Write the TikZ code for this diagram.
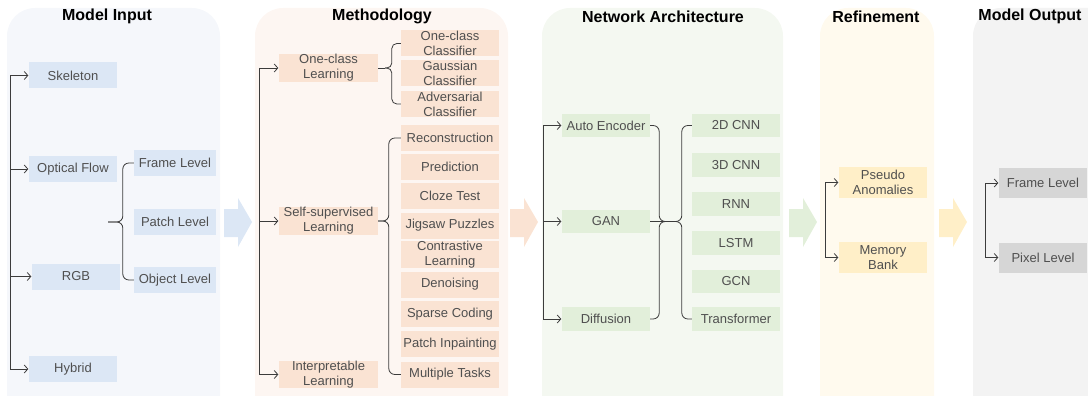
\documentclass[tikz,border=0pt]{standalone}
\usepackage{fontspec}
\setmainfont{Liberation Sans}
\usetikzlibrary{arrows.meta,positioning,calc}

\definecolor{inbg}{HTML}{F5F7FB}
\definecolor{incol}{HTML}{DCE7F5}
\definecolor{mebg}{HTML}{FDF6F2}
\definecolor{mecol}{HTML}{FAE3D3}
\definecolor{nabg}{HTML}{F4F8F1}
\definecolor{nacol}{HTML}{E2EFDA}
\definecolor{rebg}{HTML}{FFFAEE}
\definecolor{recol}{HTML}{FFEFC8}
\definecolor{mobg}{HTML}{F3F3F3}
\definecolor{mocol}{HTML}{D6D6D6}
\definecolor{linecol}{HTML}{3C3C3C}
\definecolor{boxtext}{HTML}{4F4F4F}

\tikzset{
    panel/.style={rounded corners=28pt},
    titulo/.style={font=\fontsize{16}{18}\selectfont\bfseries,text=black},
    caja/.style={minimum width=88pt,minimum height=26pt,inner sep=0pt,align=center,
        text=boxtext,font=\fontsize{13}{15}\selectfont},
    inbox/.style={caja,fill=incol},
    mebox/.style={caja,fill=mecol,minimum width=98pt},
    nabox/.style={caja,fill=nacol,minimum height=23.5pt},
    rebox/.style={caja,fill=recol,minimum height=31pt},
    mobox/.style={caja,fill=mocol,minimum height=30pt},
    linea/.style={draw=linecol,line width=0.8pt},
    flecha/.style={linea,-{Straight Barb[length=3.5pt,width=8pt]},shorten >=0.5pt},
    llave/.style={linea,rounded corners=6pt},
}
\newcommand{\bigarrow}[2]{\fill[#2] (#1,209) -- ++(14,0) -- ++(0,-11) -- ++(14,24)
    -- ++(-14,25) -- ++(0,-10) -- ++(-14,0) -- cycle;}

\begin{document}
\begin{tikzpicture}[x=1pt,y=-1pt]
    \useasboundingbox (0,0) rectangle (1088,396);
    \clip (0,0) rectangle (1088,396);
    % panels
    \fill[inbg,panel] (7,8) rectangle (220,440);
    \fill[mebg,panel] (255,8) rectangle (508,440);
    \fill[nabg,panel] (542,8) rectangle (783,440);
    \fill[rebg,panel] (820,8) rectangle (934,440);
    \fill[mobg,panel] (973,8) rectangle (1120,440);
    \node[titulo] at (107,16.5) {Model Input};
    \node[titulo] at (382,16.5) {Methodology};
    \node[titulo] at (663,16.5) {Network Architecture};
    \node[titulo] at (876,16.5) {Refinement};
    \node[titulo] at (1030,16.5) {Model Output};
    \bigarrow{224}{incol}
    \bigarrow{510}{mecol}
    \bigarrow{789}{nacol}
    \bigarrow{939}{recol}

    % model input
    \node[inbox] (sk) at (73,75.5) {Skeleton};
    \node[inbox] (of) at (73,169) {Optical Flow};
    \node[inbox] (rgb) at (76,276.5) {RGB};
    \node[inbox] (hy) at (73,369) {Hybrid};
    \node[inbox,minimum width=82pt] (fl) at (175,163) {Frame Level};
    \node[inbox,minimum width=82pt] (pl) at (175,222) {Patch Level};
    \node[inbox,minimum width=82pt] (ol) at (175,280) {Object Level};
    \coordinate (mi-bus) at (10,0);
    \coordinate (mi-tip) at (108,222);
    \path[linea] (mi-bus |- sk.west) -- (mi-bus |- hy.west);
    \foreach \n in {sk,of,rgb,hy}
        \path[flecha] (mi-bus |- \n.west) -- (\n.west);
    \path[llave] (fl.west) -- ++(-11,0) |- (mi-tip);
    \path[llave] (ol.west) -- ++(-11,0) |- (mi-tip);

    % methodology
    \node[mebox,minimum width=99pt] (ocl) at (328.5,68) {One-class\\Learning};
    \node[mebox,minimum width=99pt] (ssl) at (328.5,221) {Self-supervised\\Learning};
    \node[mebox,minimum width=99pt] (itl) at (328.5,374.5) {Interpretable\\Learning};
    \node[mebox] (occ) at (450,43.5) {One-class\\Classifier};
    \node[mebox] (gac) at (450,73.5) {Gaussian\\Classifier};
    \node[mebox] (adc) at (450,104) {Adversarial\\Classifier};
    \node[mebox] (rec) at (450,138) {Reconstruction};
    \node[mebox] (pre) at (450,167) {Prediction};
    \node[mebox] (clz) at (450,195.5) {Cloze Test};
    \node[mebox] (jig) at (450,225.5) {Jigsaw Puzzles};
    \node[mebox] (con) at (450,254.5) {Contrastive\\Learning};
    \node[mebox] (den) at (450,284.5) {Denoising};
    \node[mebox] (spc) at (450,314) {Sparse Coding};
    \node[mebox] (pin) at (450,344) {Patch Inpainting};
    \node[mebox] (mtk) at (450,374.5) {Multiple Tasks};
    \coordinate (me-bus) at (259,0);
    \coordinate (oc-tip) at ([xshift=7pt]ocl.east);
    \path[linea] (me-bus |- ocl.west) -- (me-bus |- itl.west);
    \foreach \n in {ocl,ssl,itl}
        \path[flecha] (me-bus |- \n.west) -- (\n.west);
    \path[linea] (ocl.east) -- (oc-tip);
    \path[llave,rounded corners=5pt] (occ.west) -- ++(-9,0) |- (oc-tip);
    \path[llave,rounded corners=5pt] (adc.west) -- ++(-9,0) |- (oc-tip);
    \path[llave] (rec.west) -- ++(-12,0) |- (ssl.east);
    \path[llave] (mtk.west) -- ++(-12,0) |- (ssl.east);

    % network architecture
    \node[nabox] (ae) at (606,125.5) {Auto Encoder};
    \node[nabox] (gan) at (606,221.5) {GAN};
    \node[nabox] (dif) at (606,319) {Diffusion};
    \node[nabox] (c2) at (736,125.5) {2D CNN};
    \node[nabox] (c3) at (736,165) {3D CNN};
    \node[nabox] (rnn) at (736,204) {RNN};
    \node[nabox] (lstm) at (736,243) {LSTM};
    \node[nabox] (gcn) at (736,281.5) {GCN};
    \node[nabox] (tf) at (736,319) {Transformer};
    \coordinate (na-bus) at (543,0);
    \coordinate (na-j) at (671,221.5);
    \path[linea] (na-bus |- ae.west) -- (na-bus |- dif.west);
    \foreach \n in {ae,gan,dif}
        \path[flecha] (na-bus |- \n.west) -- (\n.west);
    \path[linea] (gan.east) -- (na-j);
    \path[llave] (ae.east) -- ++(9,0) |- (na-j);
    \path[llave] (dif.east) -- ++(9,0) |- (na-j);
    \path[llave] (c2.west) -- ++(-10,0) |- (na-j);
    \path[llave] (tf.west) -- ++(-10,0) |- (na-j);

    % refinement
    \node[rebox] (pa) at (883,182.5) {Pseudo\\Anomalies};
    \node[rebox] (mb) at (883,257.5) {Memory\\Bank};
    \coordinate (re-bus) at (825,0);
    \path[linea] (re-bus |- pa.west) -- (re-bus |- mb.west);
    \foreach \n in {pa,mb}
        \path[flecha] (re-bus |- \n.west) -- (\n.west);

    % model output
    \node[mobox] (ofl) at (1043,183) {Frame Level};
    \node[mobox] (opl) at (1043,257.5) {Pixel Level};
    \coordinate (mo-bus) at (985,0);
    \path[linea] (mo-bus |- ofl.west) -- (mo-bus |- opl.west);
    \foreach \n in {ofl,opl}
        \path[flecha] (mo-bus |- \n.west) -- (\n.west);
\end{tikzpicture}
\end{document}
